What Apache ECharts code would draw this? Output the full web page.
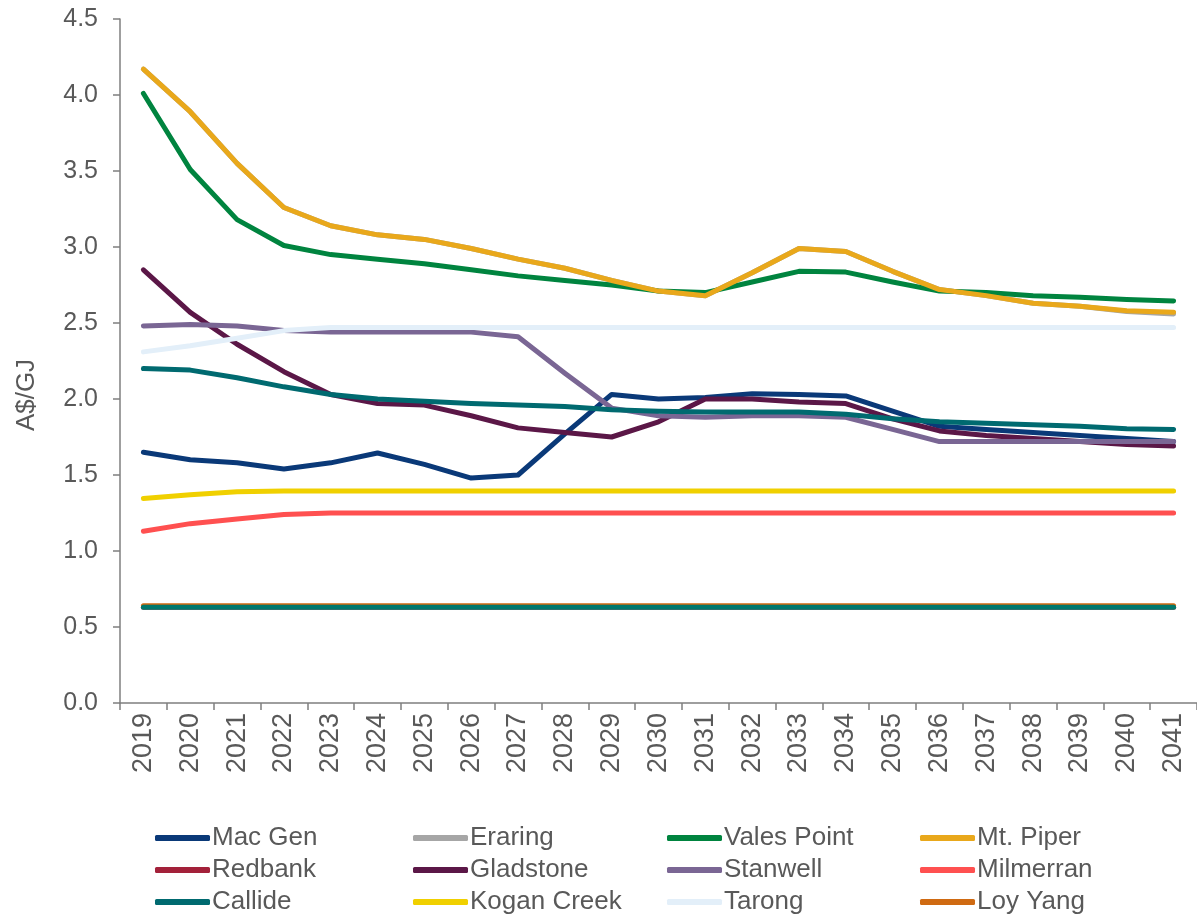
<!DOCTYPE html>
<html>
<head>
<meta charset="utf-8">
<script src="https://cdn.jsdelivr.net/npm/echarts@6/dist/echarts.min.js"></script>
<style>html,body{margin:0;padding:0;background:#fff;}#c{width:1197px;height:917px;}</style>
</head>
<body>
<div id="c"></div>
<script>
const years = ['2019','2020','2021','2022','2023','2024','2025','2026','2027','2028','2029','2030','2031','2032','2033','2034','2035','2036','2037','2038','2039','2040','2041'];
const yTicks = [0, 0.5, 1.0, 1.5, 2.0, 2.5, 3.0, 3.5, 4.0, 4.5];

const macGen     = [1.65,1.60,1.58,1.54,1.58,1.645,1.57,1.48,1.50,1.77,2.03,2.00,2.01,2.035,2.03,2.02,1.92,1.82,1.80,1.78,1.76,1.74,1.72];
const eraring    = [4.17,3.89,3.55,3.26,3.14,3.08,3.05,2.99,2.92,2.86,2.78,2.71,2.68,2.83,2.99,2.97,2.84,2.72,2.68,2.63,2.61,2.575,2.56];
const valesPoint = [4.01,3.51,3.18,3.01,2.95,2.92,2.89,2.85,2.81,2.78,2.75,2.71,2.70,2.77,2.84,2.835,2.77,2.71,2.70,2.68,2.67,2.655,2.645];
const mtPiper    = [4.17,3.89,3.55,3.26,3.14,3.08,3.05,2.99,2.92,2.86,2.78,2.71,2.68,2.83,2.99,2.97,2.84,2.72,2.68,2.63,2.61,2.58,2.57];
const redbank    = [0.63,0.63,0.63,0.63,0.63,0.63,0.63,0.63,0.63,0.63,0.63,0.63,0.63,0.63,0.63,0.63,0.63,0.63,0.63,0.63,0.63,0.63,0.63];
const gladstone  = [2.85,2.57,2.36,2.18,2.03,1.97,1.96,1.89,1.81,1.78,1.75,1.85,2.00,2.00,1.98,1.97,1.87,1.79,1.76,1.74,1.72,1.70,1.69];
const stanwell   = [2.48,2.49,2.48,2.45,2.44,2.44,2.44,2.44,2.41,2.17,1.94,1.89,1.88,1.89,1.89,1.88,1.80,1.72,1.72,1.72,1.72,1.72,1.72];
const milmerran  = [1.13,1.18,1.21,1.24,1.25,1.25,1.25,1.25,1.25,1.25,1.25,1.25,1.25,1.25,1.25,1.25,1.25,1.25,1.25,1.25,1.25,1.25,1.25];
const callide    = [2.20,2.19,2.14,2.08,2.03,2.00,1.985,1.97,1.96,1.95,1.93,1.92,1.915,1.915,1.915,1.90,1.87,1.85,1.84,1.83,1.82,1.805,1.80];
const koganCreek = [1.345,1.37,1.39,1.395,1.395,1.395,1.395,1.395,1.395,1.395,1.395,1.395,1.395,1.395,1.395,1.395,1.395,1.395,1.395,1.395,1.395,1.395,1.395];
const tarong     = [2.31,2.35,2.40,2.45,2.47,2.47,2.47,2.47,2.47,2.47,2.47,2.47,2.47,2.47,2.47,2.47,2.47,2.47,2.47,2.47,2.47,2.47,2.47];
const loyYang    = [0.64,0.64,0.64,0.64,0.64,0.64,0.64,0.64,0.64,0.64,0.64,0.64,0.64,0.64,0.64,0.64,0.64,0.64,0.64,0.64,0.64,0.64,0.64];
// unlabelled series below the legend cut-off (teal line at ~0.63)
const yallourn   = [0.63,0.63,0.63,0.63,0.63,0.63,0.63,0.63,0.63,0.63,0.63,0.63,0.63,0.63,0.63,0.63,0.63,0.63,0.63,0.63,0.63,0.63,0.63];

const seriesNames = ['Mac Gen','Eraring','Vales Point','Mt. Piper','Redbank','Gladstone','Stanwell','Milmerran','Callide','Kogan Creek','Tarong','Loy Yang'];
const seriesData  = [macGen, eraring, valesPoint, mtPiper, redbank, gladstone, stanwell, milmerran, callide, koganCreek, tarong, loyYang];
const colors = ['#0A3978','#A6A6A6','#00843F','#E9A81B','#A3213A','#5B1747','#7A6694','#FF5050','#006A70','#F0D000','#E3EFF9','#CF6A12'];

const FONT = 'Liberation Sans, Arial, sans-serif';
const series = seriesNames.map((n,i)=>({
  name:n, type:'line', data:seriesData[i], symbol:'none', smooth:false,
  lineStyle:{width:5, color:colors[i], cap:'round', join:'round'},
  itemStyle:{color:colors[i]}, emphasis:{disabled:true}, z:2
}));
series.push({name:'Yallourn', type:'line', data:yallourn, symbol:'none',
  lineStyle:{width:5,color:'#00786C',cap:'round',join:'round'}, itemStyle:{color:'#00786C'}, emphasis:{disabled:true}});

const colX = [155, 413, 667, 920];
const rowY = [825, 857, 889];
const legends = seriesNames.map((n,i)=>({
  data:[n], left:colX[i%4], top:rowY[Math.floor(i/4)], orient:'horizontal',
  icon:'roundRect', itemWidth:55, itemHeight:6, padding:0,
  textStyle:{fontFamily:FONT, fontSize:26, color:'#595959', lineHeight:26, padding:[0,0,0,-3]},
  selectedMode:false
}));

const chart = echarts.init(document.getElementById('c'), null, {renderer:'canvas'});
chart.setOption({
  animation:false,
  backgroundColor:'#fff',
  grid:{left:120, top:19, width:1080, height:684, containLabel:false},
  legend:legends,
  xAxis:{type:'category', data:years, boundaryGap:true,
    axisLine:{show:true, lineStyle:{color:'#7F7F7F', width:1.5}},
    axisTick:{show:true, length:7, lineStyle:{color:'#7F7F7F', width:1.5}, alignWithLabel:false},
    axisLabel:{rotate:90, margin:10, fontFamily:FONT, fontSize:27, color:'#595959'},
    splitLine:{show:false}},
  yAxis:{type:'value', min:yTicks[0], max:yTicks[yTicks.length-1], interval:0.5,
    name:'A$/GJ', nameLocation:'middle', nameGap:80, nameRotate:90,
    nameTextStyle:{fontFamily:FONT, fontSize:26, color:'#595959', padding:[0,68,0,0]},
    axisLine:{show:true, lineStyle:{color:'#7F7F7F', width:1.5}},
    axisTick:{show:true, length:7, lineStyle:{color:'#7F7F7F', width:1.5}},
    axisLabel:{margin:22, fontFamily:FONT, fontSize:25, color:'#595959', formatter:v=>v.toFixed(1)},
    splitLine:{show:false}},
  series:series
});
</script>
</body>
</html>
